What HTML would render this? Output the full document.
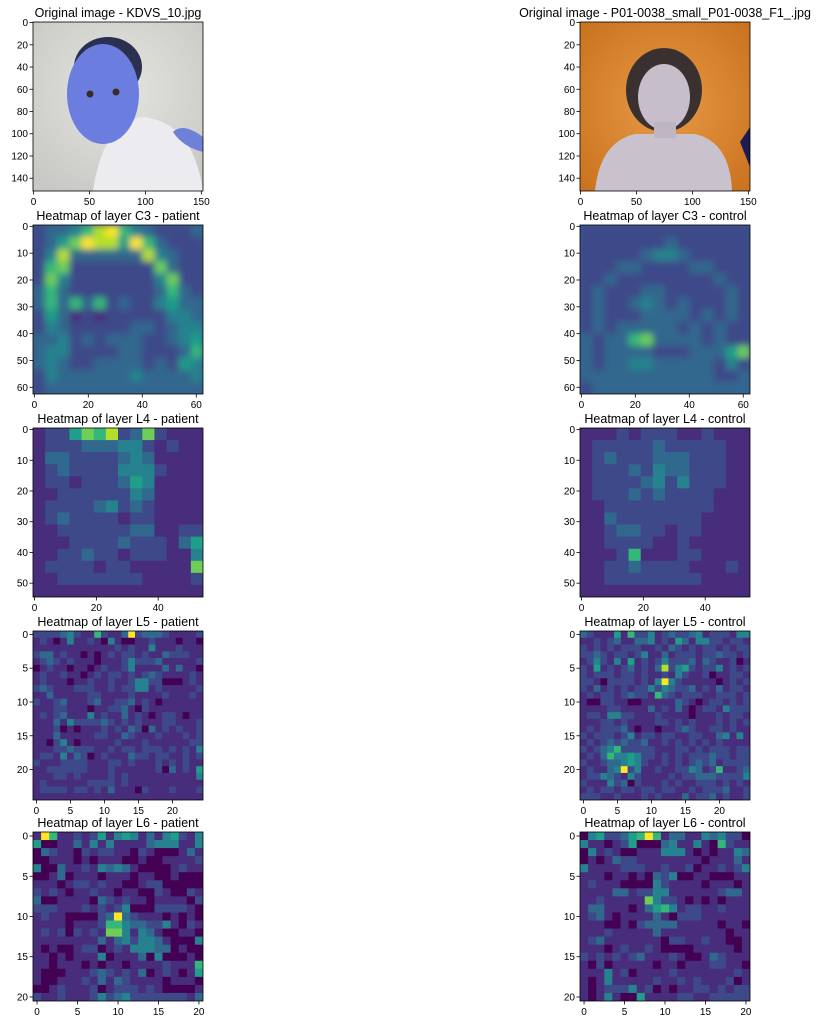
<!DOCTYPE html>
<html><head><meta charset="utf-8"><style>
html,body{margin:0;padding:0;background:#fff;}
svg{display:block;font-family:"Liberation Sans","DejaVu Sans",sans-serif;}
</style></head><body>
<svg id="fig" width="826" height="1025" viewBox="0 0 826 1025">
<defs>
<radialGradient id="bgL" cx="0.5" cy="0.4" r="0.7"><stop offset="0" stop-color="#e4e4e0"/><stop offset="1" stop-color="#c8c8c4"/></radialGradient>
<radialGradient id="bgR" cx="0.5" cy="0.5" r="0.7"><stop offset="0" stop-color="#e89a45"/><stop offset="1" stop-color="#c9711f"/></radialGradient>
<filter id="soft" x="-0.1" y="-0.1" width="1.2" height="1.2"><feGaussianBlur stdDeviation="3.5"/></filter>
</defs>
</svg>
<script>
// ---- data ----
const titles = ["Original image - KDVS_10.jpg","Original image - P01-0038_small_P01-0038_F1_.jpg",
"Heatmap of layer C3 - patient","Heatmap of layer C3 - control",
"Heatmap of layer L4 - patient","Heatmap of layer L4 - control",
"Heatmap of layer L5 - patient","Heatmap of layer L5 - control",
"Heatmap of layer L6 - patient","Heatmap of layer L6 - control"];
const extents = [152,152,63,63,55,55,25,25,21,21];
const xTicks = [[0,50,100,150],[0,50,100,150],[0,20,40,60],[0,20,40,60],[0,20,40],[0,20,40],[0,5,10,15,20],[0,5,10,15,20],[0,5,10,15,20],[0,5,10,15,20]];
const yTicks = [[0,20,40,60,80,100,120,140],[0,20,40,60,80,100,120,140],[0,10,20,30,40,50,60],[0,10,20,30,40,50,60],[0,10,20,30,40,50],[0,10,20,30,40,50],[0,5,10,15,20],[0,5,10,15,20],[0,5,10,15,20],[0,5,10,15,20]];
const c3Patient = ["23346896432223","23579885963222","24833333384322","26722222227322","27422222224722","36322222223632","36363623224533","25312122222443","24322222332344","33423233322345","34422223322236","34322333323254","24333333433334","23333333333333"];
const c3Control = ["22222222222222","22222223222222","22222344322222","22233222233222","22322222222322","23222332222232","23223432322232","23222333323232","23233333232322","32336733332322","32333322233357","32334433333242","33333333333223","23333333333333"];
const l4Patient = ["12257682372111","12223334421211","13322223431111","12322224442111","12212223541111","11222222431111","12222342321111","12322221221111","11222222331122","11122223222135","11223221222114","12222122111117","11222222211112","11111111111111"];
const l4Control = ["11121222112111","12222232222211","12322233322211","12223243322211","12222342422211","12223232222111","11222222222111","11322222221111","11233221221111","11222211211111","11126111221111","11223222211121","11222222221111","11111111111111"];
const l5Patient = ["2222342116211392333211112","1210141121041001121110110","1111111111112121141112111","2331211010121221211322211","1232121110111242223111112","0121101101211241111313110","1211211012122121232111121","1211101121121124422000121","2321112221121224412111112","1131111122111121111211121","2112311123112231210111111","1112211101122310211111111","1212311141211312101221011","1113142222321212111221112","1112010111212132031212112","1113111112211321112111212","1102410111112111211111122","1112232221121221222121214","1221413201211132212211212","2111222211122121112121211","1122222211121111112031215","1112212111121211111111114","1211111122221211111111111","1222212212131110211121112","1111111111111111111111111"];
const l5Control = ["3211151622412322341222144","1121231133412153144221221","2121212221121321212212122","2232122124113122212232212","1242141512124222313211201","2151212312138245212241212","2122212212112142112011221","2210222212149421111101212","2131212122424322312131221","1212212322163212221122212","1002211001111132101221212","1111221111312131012214222","1221442211121111011121221","1112212111122121211121212","1212223101101123211221211","2122212412212211221134141","1212323223112121212121111","2123462222211122121222122","1213644542212121222322122","2112334542112121232312222","1211349241121122431261123","1224321421111212233322224","2111423021112121122212121","1212212212212211212223112","2221121112121113122312112"];
const l6Patient = ["196112125145413145214","500113141411113444114","032110212211021000131","001110101110010011112","400311214343100001211","001301110111011001000","111012212110012200000","212101121101100210021","300111103212110111102","222111212124000222210","121100002393211101010","111101112664332241021","121202121774143100110","111111113134244310004","101001220121444330100","110101114011130400010","110111010110111121116","100011123212130121015","100111213132111101110","001211120122212100001","211211124234222222213"];
const l6Control = ["045223569613311434220","411012500034114106211","041210011144410101143","010132211111111011131","411112221121120112124","111011010324001100011","121110000421111011101","111133122441111112331","112111117422101010111","133111013564122112111","123101111310222111111","111001023333111110110","111211111311111111011","123111111102211211001","111012112100001111101","212121231112100132111","102011111011011122110","111412011112111111121","101411111211212111201","101222412010112212122","101410051111221122222"];
const grids = [null,null,c3Patient,c3Control,l4Patient,l4Control,l5Patient,l5Control,l6Patient,l6Control];
const viridis = ["#440154","#472d7b","#3e4989","#31688e","#26828e","#1f9e89","#35b779","#6ece58","#b5de2b","#fde725"];
// ---- layout ----
const NS="http://www.w3.org/2000/svg";
const svg=document.getElementById('fig');
const defs=svg.querySelector('defs');
const colX=[33,580], rowY=[22,225,428,631,832], W=170, H=169;
function mk(tag,attrs,parent){const e=document.createElementNS(NS,tag);for(const k in attrs)e.setAttribute(k,attrs[k]);(parent||svg).appendChild(e);return e;}
for(let p=0;p<10;p++){
  const x0=colX[p%2], y0=rowY[Math.floor(p/2)], N=extents[p];
  const g=mk('g',{});
  
  
  const sx=v=>x0+(v+0.5)/N*W, sy=v=>y0+(v+0.5)/N*H;
  const t=mk('text',{x:x0+W/2,y:y0-5,'text-anchor':'middle','font-size':12.5,fill:'#000'},g);
  t.textContent=titles[p];
  
  
  const grid=grids[p];
  if(grid){
    const G=grid.length;
    const blur=(p===2||p===3);
    const cp=mk('clipPath',{id:'clip'+p},defs);
    mk('rect',{x:x0,y:y0,width:W,height:H},cp);
    const outer=mk('g',{'clip-path':'url(#clip'+p+')'},g);
    if(blur) mk('rect',{x:x0,y:y0,width:W,height:H,fill:'#3a5a8c'},outer);
    const hg=mk('g',blur?{filter:'url(#soft)'}:{},outer);
    for(let r=0;r<G;r++)for(let c=0;c<G;c++){
      const lv=parseInt(grid[r][c]||'1');
      const cx=x0+c/G*W, cy=y0+r/G*H;
      const cell=mk('rect',{x:cx.toFixed(2),y:cy.toFixed(2),width:(W/G+0.4).toFixed(2),height:(H/G+0.4).toFixed(2),fill:viridis[lv]},hg);
      
      
    }
  } else if(p===0){
    mk('rect',{x:x0,y:y0,width:W,height:H,fill:'url(#bgL)'},g);
    mk('path',{d:`M${x0+60} ${y0+H} Q${x0+70} ${y0+100} ${x0+110} ${y0+95} Q${x0+160} ${y0+100} ${x0+W} ${y0+H} Z`,fill:'#ecebf0'},g);
    mk('path',{d:`M${x0+140} ${y0+110} Q${x0+150} ${y0+100} ${x0+W} ${y0+115} L${x0+W} ${y0+130} Q${x0+150} ${y0+125} ${x0+140} ${y0+110} Z`,fill:'#6f80d8'},g);
    mk('ellipse',{cx:x0+75,cy:y0+45,rx:34,ry:30,fill:'#2c3050'},g);
    mk('ellipse',{cx:x0+70,cy:y0+72,rx:36,ry:50,fill:'#6b7ee0'},g);
    mk('circle',{cx:x0+57,cy:y0+72,r:3.5,fill:'#3a2a2a'},g);
    mk('circle',{cx:x0+83,cy:y0+70,r:3.5,fill:'#3a2a2a'},g);
  } else {
    mk('rect',{x:x0,y:y0,width:W,height:H,fill:'url(#bgR)'},g);
    mk('path',{d:`M${x0+15} ${y0+H} Q${x0+20} ${y0+120} ${x0+55} ${y0+112} L${x0+115} ${y0+112} Q${x0+150} ${y0+120} ${x0+152} ${y0+H} Z`,fill:'#c9c2cc'},g);
    mk('ellipse',{cx:x0+84,cy:y0+68,rx:38,ry:42,fill:'#3a3030'},g);
    mk('ellipse',{cx:x0+84,cy:y0+75,rx:26,ry:33,fill:'#c6bfcb'},g);
    mk('rect',{x:x0+74,y:y0+100,width:22,height:16,fill:'#bdb5c2'},g);
    mk('path',{d:`M${x0+160} ${y0+120} L${x0+W} ${y0+105} L${x0+W} ${y0+145} Z`,fill:'#1c1c50'},g);
  }
  mk('rect',{x:x0,y:y0,width:W,height:H,fill:'none',stroke:'#000','stroke-width':0.8},g);
  for(const v of xTicks[p]){
    const X=sx(v);
    mk('line',{x1:X,x2:X,y1:y0+H,y2:y0+H+3.5,stroke:'#000','stroke-width':0.8},g);
    const tt=mk('text',{x:X,y:y0+H+14,'text-anchor':'middle','font-size':10,fill:'#000'},g);
    tt.textContent=v;
    
    
  }
  for(const v of yTicks[p]){
    const Y=sy(v);
    mk('line',{x1:x0-3.5,x2:x0,y1:Y,y2:Y,stroke:'#000','stroke-width':0.8},g);
    const tt=mk('text',{x:x0-5,y:Y+3.5,'text-anchor':'end','font-size':10,fill:'#000'},g);
    tt.textContent=v;
    
    
  }
}
</script>
</body></html>
